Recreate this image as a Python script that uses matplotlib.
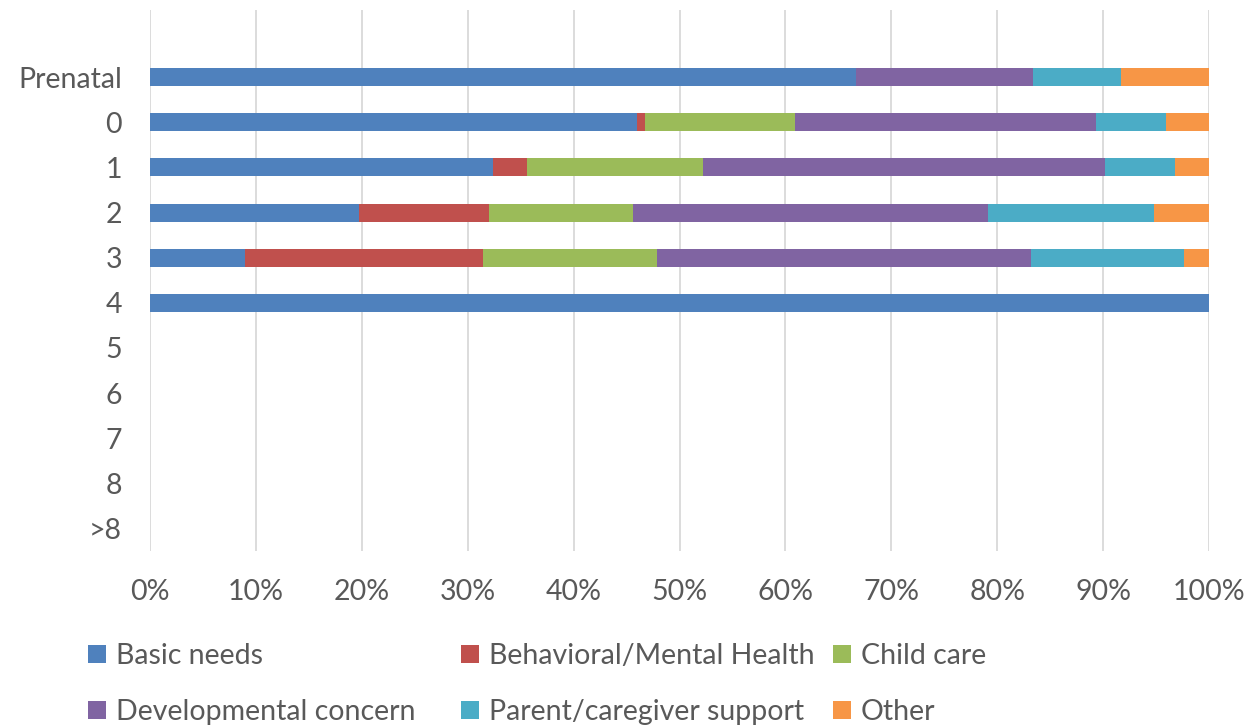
import matplotlib
matplotlib.use("Agg")
import matplotlib.pyplot as plt
import numpy as np

plt.rcParams['font.family'] = ['Lato', 'DejaVu Sans']

# Age groups, top to bottom (blank slot at the top of the category axis)
categories = ["", "Prenatal", "0", "1", "2", "3", "4", "5", "6", "7", "8", ">8"]

# Share of referrals by need (percent of each age group)
basic_needs   = [0, 66.7, 46.0, 32.4, 19.7,  9.0, 100, 0, 0, 0, 0, 0]
behavioral_mh = [0,  0.0,  0.7,  3.2, 12.3, 22.4,   0, 0, 0, 0, 0, 0]
child_care    = [0,  0.0, 14.2, 16.6, 13.6, 16.5,   0, 0, 0, 0, 0, 0]
developmental = [0, 16.7, 28.4, 38.0, 33.5, 35.3,   0, 0, 0, 0, 0, 0]
parent_support= [0,  8.3,  6.6,  6.6, 15.7, 14.4,   0, 0, 0, 0, 0, 0]
other         = [0,  8.3,  4.1,  3.2,  5.2,  2.4,   0, 0, 0, 0, 0, 0]

series_names = ["Basic needs", "Behavioral/Mental Health", "Child care",
                "Developmental concern", "Parent/caregiver support", "Other"]
series_values = [basic_needs, behavioral_mh, child_care,
                 developmental, parent_support, other]
colors = ["#4F81BD", "#C0504D", "#9BBB59", "#8064A2", "#4BACC6", "#F79646"]

xticks = [0, 10, 20, 30, 40, 50, 60, 70, 80, 90, 100]
xtick_labels = [f"{t}%" for t in xticks]

text_color = "#595959"
grid_color = "#D9D9D9"
fs = 20.5

fig = plt.figure(figsize=(12.52, 7.27), dpi=100)
ax = fig.add_axes([150 / 1252, 1 - 551 / 727, (1209 - 150) / 1252, (551 - 9.5) / 727])

y = np.arange(len(categories))
left = np.zeros(len(categories))
handles = []
for name, vals, col in zip(series_names, series_values, colors):
    v = np.array(vals, dtype=float)
    h = ax.barh(y, v, left=left, height=0.40, color=col, label=name, zorder=3)
    handles.append(h)
    left += v

ax.set_xlim(0, 100)
ax.set_ylim(len(categories) - 0.5, -0.5)
ax.set_xticks(xticks)
ax.set_xticklabels(xtick_labels)
ax.set_yticks(y)
ax.set_yticklabels(categories)
ax.tick_params(axis='both', length=0, labelsize=fs, labelcolor=text_color)
ax.tick_params(axis='y', pad=20)
ax.tick_params(axis='x', pad=20)
ax.xaxis.grid(True, color=grid_color, linewidth=1.3, zorder=0)
ax.set_axisbelow(True)
for s in ax.spines.values():
    s.set_visible(False)

# Legend laid out in three fixed-width columns, two rows each
columns = [(0, 3), (1, 4), (2, 5)]
col_x = [88, 461, 833]
for (a, b), x0 in zip(columns, col_x):
    fig.legend([handles[a], handles[b]], [series_names[a], series_names[b]],
               loc='upper left', bbox_to_anchor=(x0 / 1252, 1 - 643 / 727),
               frameon=False, fontsize=fs, labelcolor=text_color,
               handlelength=0.63, handleheight=0.63, handletextpad=0.35,
               labelspacing=1.05, borderaxespad=0, borderpad=0)

fig.savefig("out.png", dpi=100)
